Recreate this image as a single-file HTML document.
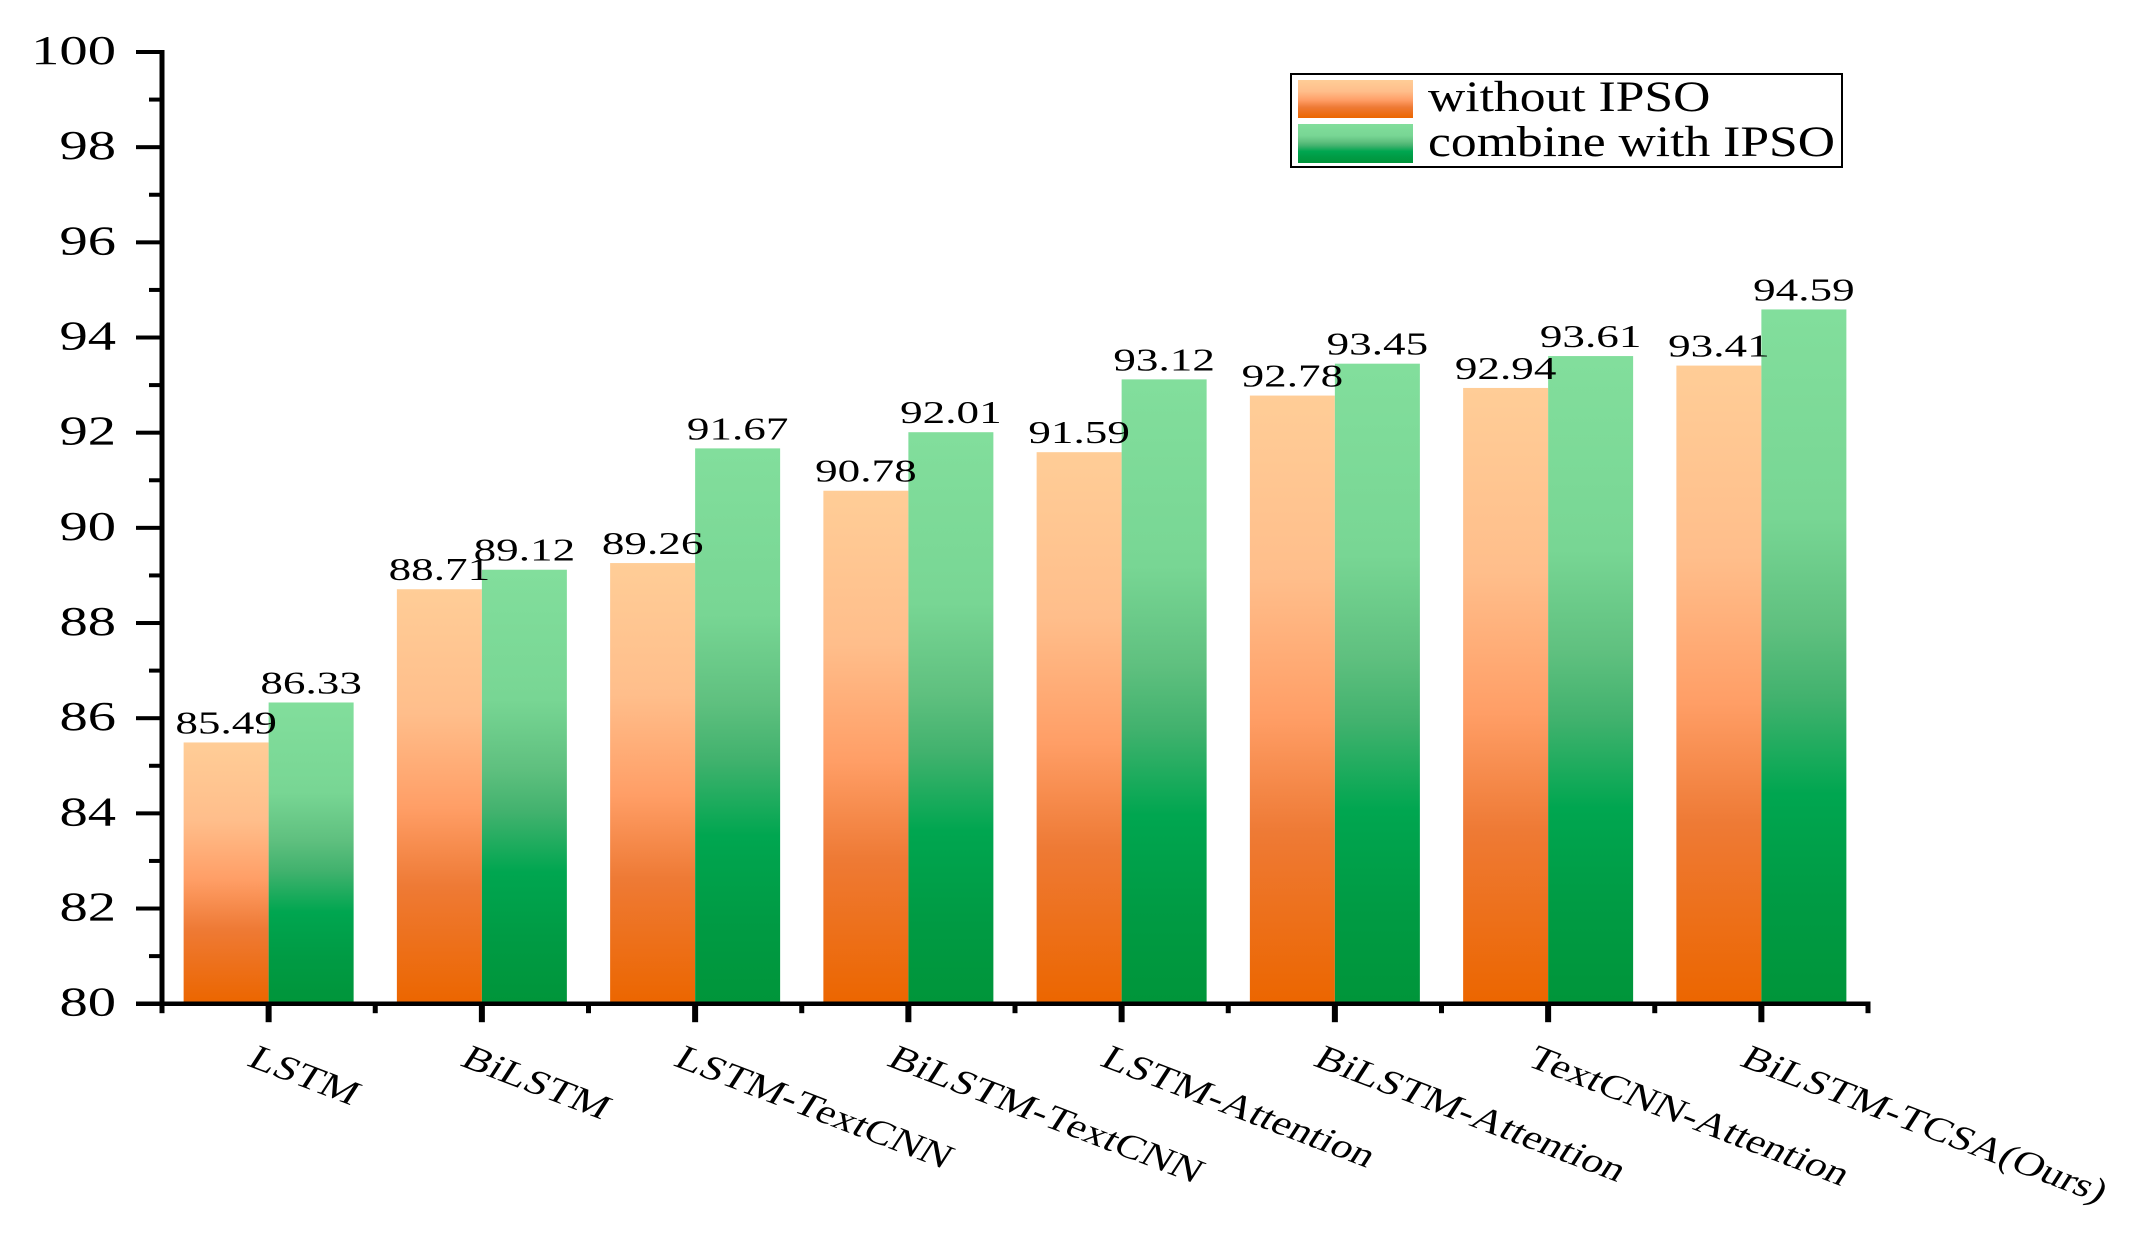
<!DOCTYPE html>
<html lang="en">
<head>
<meta charset="utf-8">
<title>Model accuracy without and with IPSO</title>
<style>
html,body{margin:0;padding:0;background:#fff;width:2133px;height:1255px;overflow:hidden}
svg{display:block}
text{font-family:"Liberation Serif",serif;fill:#000}
</style>
</head>
<body>
<svg id="chart" xmlns="http://www.w3.org/2000/svg" width="2133" height="1255" viewBox="0 0 2133 1255">
  <defs>
    <linearGradient id="grad-orange" x1="0" y1="0" x2="0" y2="1">
      <stop offset="0" stop-color="#FFCD97"/>
      <stop offset="0.3" stop-color="#FFBE8B"/>
      <stop offset="0.53" stop-color="#FF9E66"/>
      <stop offset="0.72" stop-color="#EE7A35"/>
      <stop offset="1" stop-color="#EC6600"/>
    </linearGradient>
    <linearGradient id="grad-green" x1="0" y1="0" x2="0" y2="1">
      <stop offset="0" stop-color="#82DE9C"/>
      <stop offset="0.3" stop-color="#78D694"/>
      <stop offset="0.46" stop-color="#5FC07F"/>
      <stop offset="0.56" stop-color="#42B26E"/>
      <stop offset="0.7" stop-color="#00A650"/>
      <stop offset="0.85" stop-color="#009B44"/>
      <stop offset="1" stop-color="#00953A"/>
    </linearGradient>
  </defs>
  <g id="bars"></g>
  <g id="axes"></g>
  <g id="values"></g>
  <g id="legend">
    <rect x="1291" y="74" width="551" height="93" fill="#fff" stroke="#000" stroke-width="2"/>
    <rect x="1298" y="80" width="115" height="38" fill="url(#grad-orange)"/>
    <rect x="1298" y="124" width="115" height="39" fill="url(#grad-green)"/>
    <text transform="translate(1428 111) scale(1.2 1)" font-size="43">without IPSO</text>
    <text transform="translate(1428 156) scale(1.2 1)" font-size="43">combine with IPSO</text>
  </g>
</svg>
<script>
const categories = ["LSTM", "BiLSTM", "LSTM-TextCNN", "BiLSTM-TextCNN", "LSTM-Attention", "BiLSTM-Attention", "TextCNN-Attention", "BiLSTM-TCSA(Ours)"];
const withoutIpso = [85.49, 88.71, 89.26, 90.78, 91.59, 92.78, 92.94, 93.41];
const withIpso = [86.33, 89.12, 91.67, 92.01, 93.12, 93.45, 93.61, 94.59];
const yTicks = [80, 82, 84, 86, 88, 90, 92, 94, 96, 98, 100];

const NS = "http://www.w3.org/2000/svg";
const yMin = 80, yMax = 100, yBottom = 1003.7, yTop = 52;
const xLeft = 162, xRight = 1868;
const barW = 85;
const y = v => yBottom - (v - yMin) * (yBottom - yTop) / (yMax - yMin);
const step = (xRight - xLeft) / categories.length;
const x = i => xLeft + step * (i + 0.5);
const fmt = v => v.toFixed(2);

const make = (tag, parent, props) => {
  const el = document.createElementNS(NS, tag);
  for (const k in props) el.setAttribute(k, props[k]);
  parent.appendChild(el);
  return el;
};

const bars = document.getElementById("bars");
const axes = document.getElementById("axes");
const values = document.getElementById("values");

categories.forEach((c, i) => {
  const a = make("rect", bars, {x: x(i) - barW, y: y(withoutIpso[i]), width: barW, height: 1002 - y(withoutIpso[i]), fill: "url(#grad-orange)"});
  
  
  const b = make("rect", bars, {x: x(i), y: y(withIpso[i]), width: barW, height: 1002 - y(withIpso[i]), fill: "url(#grad-green)"});
  
  

  const t1 = make("text", values, {transform: `translate(${x(i) - barW / 2} ${y(withoutIpso[i]) - 9}) scale(1.41 1)`, "font-size": 32, "text-anchor": "middle"});
  t1.textContent = fmt(withoutIpso[i]);
  
  
  const t2 = make("text", values, {transform: `translate(${x(i) + barW / 2} ${y(withIpso[i]) - 9}) scale(1.41 1)`, "font-size": 32, "text-anchor": "middle"});
  t2.textContent = fmt(withIpso[i]);
  
  

  const tick = make("rect", axes, {x: x(i) - 3, y: yBottom, width: 6, height: 18.5, fill: "#000"});
  
  

  const lab = make("text", axes, {transform: `translate(${x(i) - 23} 1065) scale(1.3 1) rotate(26.5)`, "font-size": 34});
  lab.textContent = c;
  
  
});

for (let i = 0; i <= categories.length; i++) {
  const m = make("rect", axes, {x: xLeft + step * i - 2.5, y: yBottom, width: 5, height: 9.5, fill: "#000"});
  
  
}

yTicks.forEach((v, i) => {
  const tk = make("rect", axes, {x: 136, y: y(v) - 2, width: 26, height: 4, fill: "#000"});
  
  
  if (i < yTicks.length - 1) {
    const mid = (v + yTicks[i + 1]) / 2;
    const mn = make("rect", axes, {x: 149, y: y(mid) - 2, width: 13, height: 4, fill: "#000"});
    
    
  }
  const lb = make("text", axes, {transform: `translate(116 ${y(v) + 12}) scale(1.38 1)`, "font-size": 41, "text-anchor": "end"});
  lb.textContent = v;
  
  
});

const yAxis = make("rect", axes, {x: xLeft - 2.5, y: yTop - 2, width: 5, height: yBottom - yTop + 4, fill: "#000"});


const xAxis = make("rect", axes, {x: 136, y: yBottom - 2.2, width: xRight + 2.5 - 136, height: 4.5, fill: "#000"});


</script>
</body>
</html>
